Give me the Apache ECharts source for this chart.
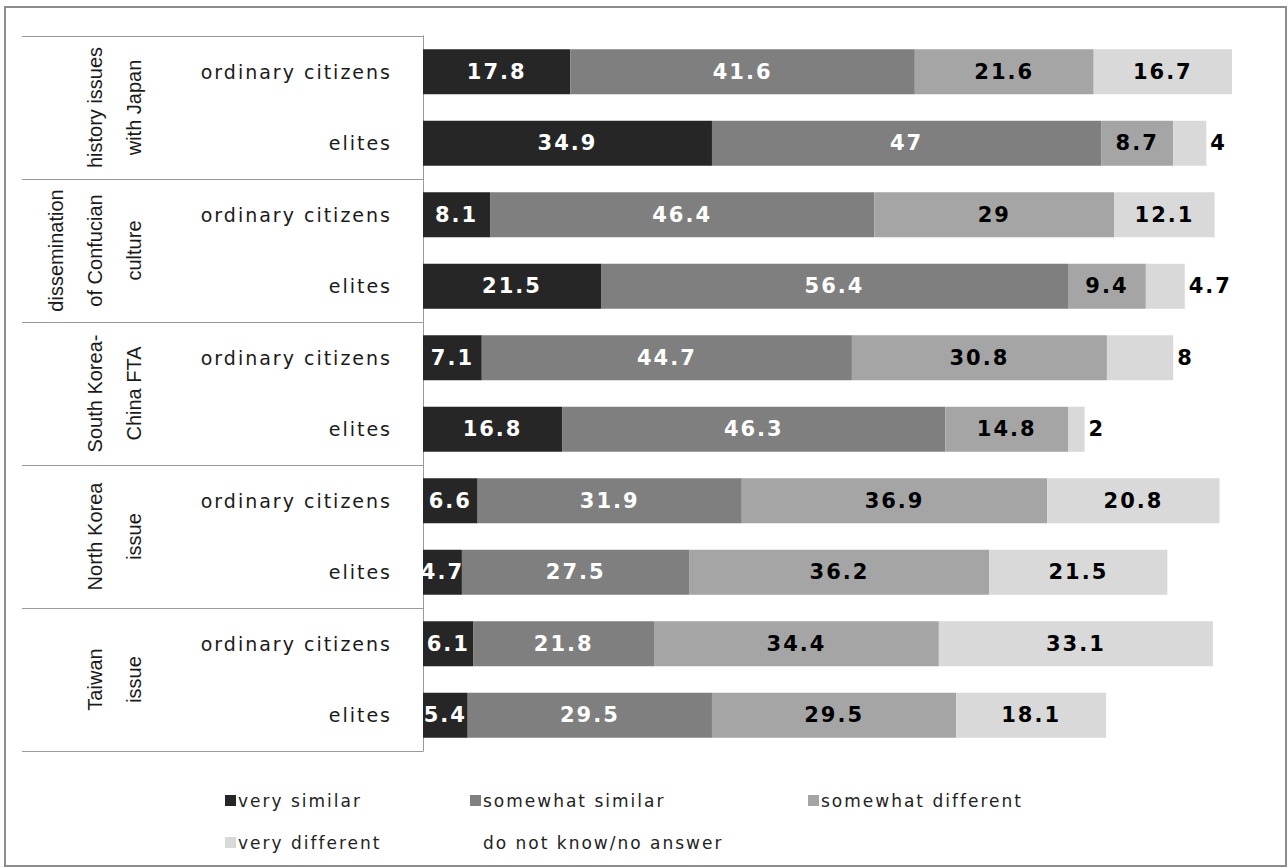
<!DOCTYPE html>
<html>
<head>
<meta charset="utf-8">
<script src="https://cdn.jsdelivr.net/npm/echarts@6/dist/echarts.min.js"></script>
<style>
  html, body { margin: 0; padding: 0; background: #fff; }
  #wrap { position: relative; width: 1288px; height: 868px; }
  #chart { width: 1288px; height: 868px; }
  #chart svg text { letter-spacing: 2px; }
  #chart svg text[style*="Liberation"] { letter-spacing: 0; }
  #frame { position: absolute; left: 4px; top: 6px; right: 1px; bottom: 1px;
           border: 2px solid #8c8c8c; pointer-events: none; }
</style>
</head>
<body>
<div id="wrap"><div id="chart"></div><div id="frame"></div></div>
<script>
// ---- data ----
const groups = ['history issues\nwith Japan', 'dissemination\nof Confucian\nculture',
                'South Korea-\nChina FTA', 'North Korea\nissue', 'Taiwan\nissue'];
const rows = ['ordinary citizens', 'elites', 'ordinary citizens', 'elites',
              'ordinary citizens', 'elites', 'ordinary citizens', 'elites',
              'ordinary citizens', 'elites'];
const seriesNames = ['very similar', 'somewhat similar', 'somewhat different',
                     'very different', 'do not know/no answer'];
const verySimilar       = [17.8, 34.9, 8.1, 21.5, 7.1, 16.8, 6.6, 4.7, 6.1, 5.4];
const somewhatSimilar   = [41.6, 47, 46.4, 56.4, 44.7, 46.3, 31.9, 27.5, 21.8, 29.5];
const somewhatDifferent = [21.6, 8.7, 29, 9.4, 30.8, 14.8, 36.9, 36.2, 34.4, 29.5];
const veryDifferent     = [16.7, 4, 12.1, 4.7, 8, 2, 20.8, 21.5, 33.1, 18.1];
const doNotKnow         = [];

const colors = ['#262626', '#7f7f7f', '#a5a5a5', '#d9d9d9', '#ffffff'];
const labelColors = ['#ffffff', '#ffffff', '#000000', '#000000', '#000000'];
const valueArrays = [verySimilar, somewhatSimilar, somewhatDifferent, veryDifferent, doNotKnow];

const labelFont = 'DejaVu Sans';
const textFont = 'DejaVu Sans';

const series = seriesNames.map((name, i) => ({
  name: name,
  type: 'bar',
  stack: 'total',
  barCategoryGap: '37%',
  itemStyle: { color: colors[i] },
  label: {
    show: i < 4,
    position: 'inside',
    color: labelColors[i],
    fontFamily: labelFont,
    fontWeight: 'bold',
    fontSize: 21,
    distance: 4
  },
  emphasis: { disabled: true },
  data: i === 3
    ? valueArrays[i].map(v => v < 10 ? { value: v, label: { position: 'right' } } : v)
    : valueArrays[i]
}));

const legendPos = [
  [225, 792], [470, 792], [808, 792], [225, 834], [470, 834]
];
const legends = seriesNames.map((name, i) => ({
  data: [name],
  left: legendPos[i][0],
  top: legendPos[i][1],
  icon: 'rect',
  itemWidth: 11,
  itemHeight: 11,
  itemGap: 0,
  padding: 0,
  textStyle: { fontFamily: textFont, fontSize: 17, color: '#222', padding: [0, 0, 0, -3] },
  selectedMode: false
}));

const chart = echarts.init(document.getElementById('chart'), null, { renderer: 'svg' });
chart.setOption({
  animation: false,
  backgroundColor: '#ffffff',
  grid: { left: 423, right: 37, top: 36, bottom: 117, containLabel: false },
  legend: legends,
  xAxis: {
    type: 'value', min: 0, max: 100,
    show: false
  },
  yAxis: [
    {
      type: 'category',
      data: rows,
      inverse: true,
      position: 'left',
      axisLine: { show: true, lineStyle: { color: '#9a9a9a', width: 1 } },
      axisTick: { show: false },
      axisLabel: {
        interval: 0, margin: 31,
        fontFamily: textFont, fontSize: 19, color: '#1a1a1a'
      }
    },
    {
      type: 'category',
      data: groups,
      inverse: true,
      position: 'left',
      axisLine: { show: true, lineStyle: { color: '#9a9a9a', width: 1 } },
      axisTick: { show: true, length: 401, lineStyle: { color: '#9a9a9a', width: 1 } },
      axisLabel: {
        interval: 0, rotate: 90, margin: 270,
        fontFamily: 'Liberation Sans', fontSize: 20, lineHeight: 39, color: '#1a1a1a'
      }
    }
  ],
  series: series
});
</script>
</body>
</html>
